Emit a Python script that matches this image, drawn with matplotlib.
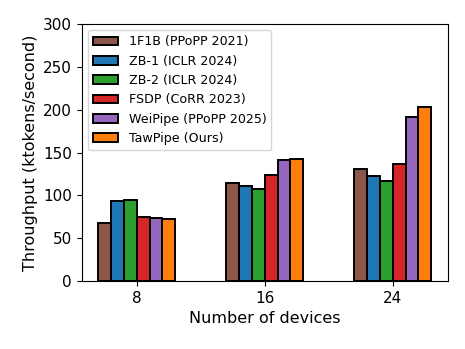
import matplotlib
matplotlib.use("agg")
import matplotlib.pyplot as plt
import numpy as np

devices = ["8", "16", "24"]
methods = ["1F1B (PPoPP 2021)", "ZB-1 (ICLR 2024)", "ZB-2 (ICLR 2024)",
           "FSDP (CoRR 2023)", "WeiPipe (PPoPP 2025)", "TawPipe (Ours)"]
colors = ["tab:brown", "tab:blue", "tab:green", "tab:red", "tab:purple", "tab:orange"]

# throughput (ktokens/second) per method, for 8 / 16 / 24 devices
f1b = [68, 114, 131]
zb1 = [93, 111, 122]
zb2 = [94, 107, 117]
fsdp = [75, 124, 137]
weipipe = [73, 141, 192]
tawpipe = [72, 142, 203]
values = [f1b, zb1, zb2, fsdp, weipipe, tawpipe]

fig = plt.figure(figsize=(4.65, 3.49), dpi=100)
ax = fig.add_axes([0.176, 0.195, 0.787, 0.736])

x = np.arange(len(devices))
width = 0.1
for i in range(len(methods)):
    off = (i - (len(methods) - 1) / 2) * width
    ax.bar(x + off, values[i], width, color=colors[i], edgecolor="black",
           linewidth=1.4, label=methods[i])

ax.set_xticks(x)
ax.set_xticklabels(devices)
ax.set_ylim(0, 300)
ax.tick_params(labelsize=11)
ax.set_xlabel("Number of devices", fontsize=11.5)
ax.set_ylabel("Throughput (ktokens/second)", fontsize=11.5)
ax.legend(loc="upper left", fontsize=9.1)

plt.savefig("out.png")
